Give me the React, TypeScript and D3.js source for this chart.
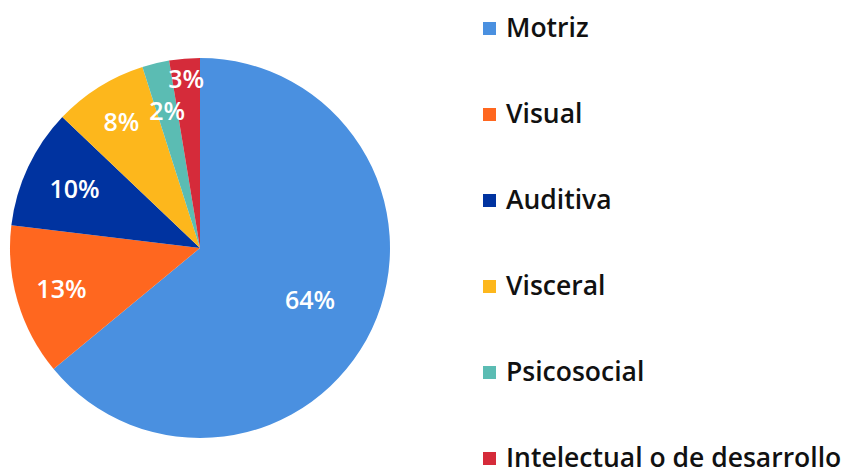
import React from "react";
import * as d3 from "d3";

const categories = ["Motriz", "Visual", "Auditiva", "Visceral", "Psicosocial", "Intelectual o de desarrollo"];
const values = [64.0, 12.9, 10.2, 8.0, 2.3, 2.6];
const colors = ["#4A90E0", "#FF671F", "#0033A0", "#FDB71C", "#5BBCB3", "#D52B3A"];
// label distance from center as a fraction of the radius (Excel best-fit placement)
const labelRadius = [0.64, 0.76, 0.73, 0.78, 0.74, 0.89];

const W = 846;
const H = 471;

export default function App() {
  const cx = 200;
  const cy = 248;
  const r = 190;

  const pie = d3.pie<number>().sort(null).value(d => d);
  const arcs = pie(values);
  const arc = d3.arc<d3.PieArcDatum<number>>().innerRadius(0).outerRadius(r);

  const legendY = d3.scalePoint<number>()
    .domain(d3.range(categories.length))
    .range([28, 458]);

  return (
    <svg width={W} height={H} style={{ position: "absolute", left: 0, top: 0, fontFamily: "'Open Sans', 'Noto Sans', sans-serif" }}>
      <rect width={W} height={H} fill="#ffffff" />
      <g transform={`translate(${cx},${cy})`}>
        {arcs.map((a, i) => (
          <path key={i} d={arc(a) || ""} fill={colors[i]} />
        ))}
        {arcs.map((a, i) => {
          const lr = r * labelRadius[i];
          const [x, y] = d3.arc<d3.PieArcDatum<number>>().innerRadius(lr).outerRadius(lr).centroid(a);
          return (
            <text key={i} x={x} y={y} dy="0.36em" textAnchor="middle" fill="#ffffff" fontSize={25} fontWeight={600}>
              {Math.round(a.data)}%
            </text>
          );
        })}
      </g>
      <g>
        {categories.map((c, i) => (
          <g key={c} transform={`translate(483,${legendY(i)})`}>
            <rect x={0} y={-6} width={13} height={13} fill={colors[i]} />
            <text x={23} y={-1} dy="0.36em" fontSize={26.5} fontWeight={600} fill="#111111">{c}</text>
          </g>
        ))}
      </g>
    </svg>
  );
}
